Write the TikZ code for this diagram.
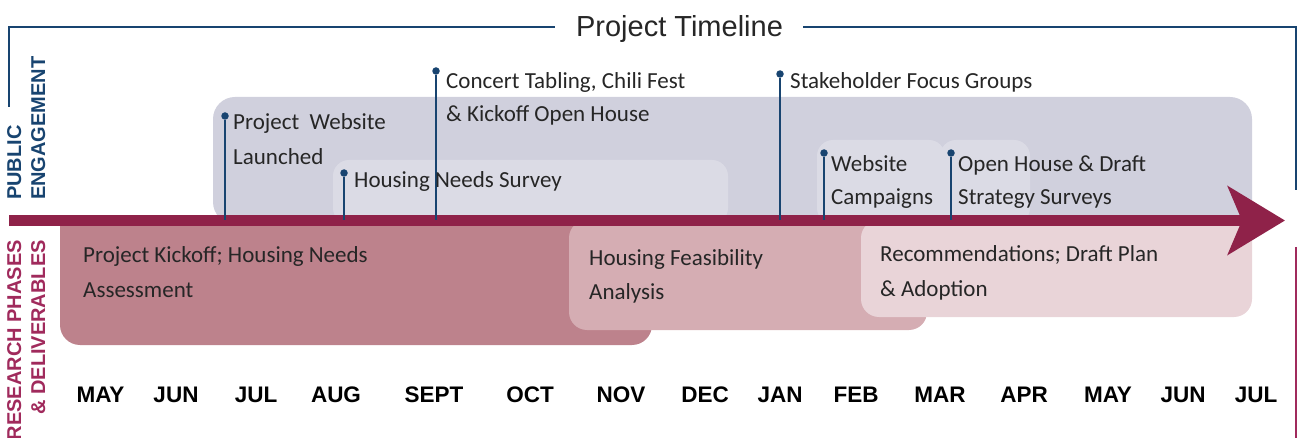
\documentclass[tikz,border=0pt]{standalone}
\usepackage{fontspec}
\setmainfont{Carlito}
\newfontfamily\headfont{Liberation Sans}
\usetikzlibrary{positioning, calc, arrows.meta}

\definecolor{navy}{RGB}{24,68,112}
\definecolor{maroon}{RGB}{143,34,73}
\definecolor{rose}{RGB}{160,42,92}
\definecolor{peback}{RGB}{208,208,221}
\definecolor{pesub}{RGB}{219,219,229}
\definecolor{phaseA}{RGB}{189,130,140}
\definecolor{phaseB}{RGB}{213,173,179}
\definecolor{phaseC}{RGB}{233,212,216}
\definecolor{inktext}{RGB}{38,38,38}

\begin{document}
\begin{tikzpicture}[x=1pt, y=-1pt,
    title/.style={font=\headfont\fontsize{29}{29}\selectfont, text=inktext, anchor=base, inner sep=0pt},
    frame/.style={navy, line width=2pt},
    sidelabel/.style={font=\headfont\bfseries\fontsize{20}{24}\selectfont, rotate=90, inner sep=0pt},
    event/.style={font=\fontsize{23}{33}\selectfont, text=inktext, align=left, anchor=base west, inner sep=0pt},
    phase/.style={font=\fontsize{23}{35}\selectfont, text=inktext, align=left, anchor=base west, inner sep=0pt},
    month/.style={font=\headfont\bfseries\fontsize{22.5}{22.5}\selectfont, anchor=base, inner sep=0pt},
    pin/.style={circle, fill=navy, inner sep=0pt, minimum size=7.5pt},
    stem/.style={navy, line width=1.6pt},
    timeline/.style={maroon, line width=11pt, -{Stealth[length=57pt, width=68pt, inset=14pt]}}
]
\useasboundingbox (0,0) rectangle (1298,438);

% Frame and title
\node[title] (title) at (679.5,37) {Project Timeline};
\draw[frame] (9,107) |- (555,27);
\draw[frame] (803,27) -| (1296,190);
\draw[rose, line width=2pt] (1296,247) -- (1296,438);

% Side labels
\node[sidelabel, text=navy, align=left, anchor=north west] (peLabel) at (7,200) {PUBLIC\\ENGAGEMENT};
\node[sidelabel, text=rose, align=right, anchor=north east] (rdLabel) at (7,240) {RESEARCH PHASES\\\& DELIVERABLES};

% Public engagement backgrounds
\fill[peback, rounded corners=22pt] (213,97) rectangle (1252,224);
\fill[pesub, rounded corners=16pt] (333,160) rectangle (728,224);
\fill[pesub, rounded corners=16pt] (817,140) rectangle (945,224);
\fill[pesub, rounded corners=16pt] (940,140) rectangle (1030,224);

% Research phases (base = last line)
\begin{scope}
  \clip (0,216) rectangle (1298,438);
  \fill[phaseA, rounded corners=20pt] (60,180) rectangle (652,345);
\end{scope}
\fill[phaseB, rounded corners=18pt] (569,220) rectangle (927,330);
\fill[phaseC, rounded corners=18pt] (861,220) rectangle (1252,317);
\node[phase] (kickoff) at (83,298) {Project Kickoff; Housing Needs\\Assessment};
\node[phase] (feasibility) at (589,300) {Housing Feasibility\\Analysis};
\node[phase] (adoption) at (880,297) {Recommendations; Draft Plan\\\& Adoption};

% Timeline arrow
\coordinate (bandL) at (9,220.5);
\coordinate (bandR) at (1285,220.5);
\draw[timeline] (bandL) -- (bandR);

% Engagement events
\node[pin] (pWebsite) at (225,116) {};
\node[pin] (pSurvey) at (344,173) {};
\node[pin] (pConcert) at (436,71) {};
\node[pin] (pFocus) at (780,74) {};
\node[pin] (pCampaign) at (824,153) {};
\node[pin] (pOpenHouse) at (951,153) {};

\draw[stem] (pWebsite) -- (pWebsite |- bandL);
\draw[stem] (pSurvey) -- (pSurvey |- bandL);
\draw[stem] (pConcert) -- (pConcert |- bandL);
\draw[stem] (pFocus) -- (pFocus |- bandL);
\draw[stem] (pCampaign) -- (pCampaign |- bandL);
\draw[stem] (pOpenHouse) -- (pOpenHouse |- bandL);

\node[event, font=\fontsize{23}{35}\selectfont] (lWebsite) at (233,165) {Project~ Website\\Launched};
\node[event] (lSurvey) at (354,188) {Housing Needs Survey};
\node[event] (lConcert) at (446,122) {Concert Tabling, Chili Fest\\\& Kickoff Open House};
\node[event] (lFocus) at (790,89) {Stakeholder Focus Groups};
\node[event] (lCampaign) at (831,205) {Website\\Campaigns};
\node[event] (lOpenHouse) at (958,205) {Open House \& Draft\\Strategy Surveys};

% Months
\node[month] (m1) at (100.5,402) {MAY};
\node[month] (m2) at (176,402) {JUN};
\node[month] (m3) at (256,402) {JUL};
\node[month] (m4) at (336,402) {AUG};
\node[month] (m5) at (434,402) {SEPT};
\node[month] (m6) at (530,402) {OCT};
\node[month] (m7) at (621,402) {NOV};
\node[month] (m8) at (705,402) {DEC};
\node[month] (m9) at (780,402) {JAN};
\node[month] (m10) at (856,402) {FEB};
\node[month] (m11) at (940,402) {MAR};
\node[month] (m12) at (1024,402) {APR};
\node[month] (m13) at (1108,402) {MAY};
\node[month] (m14) at (1183,402) {JUN};
\node[month] (m15) at (1256,402) {JUL};

\end{tikzpicture}
\end{document}
